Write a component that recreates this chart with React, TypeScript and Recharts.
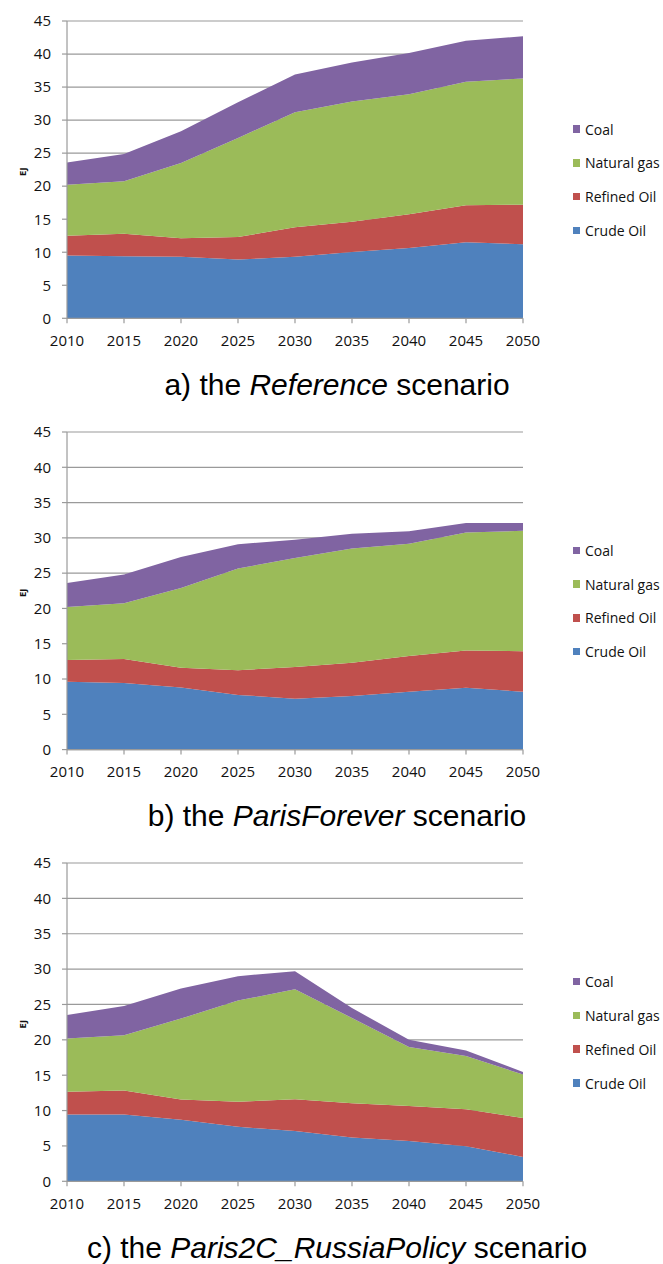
import { Area, AreaChart, CartesianGrid, Label, Legend, XAxis, YAxis } from "recharts";

// years on the category axis
const YEARS = [2010, 2015, 2020, 2025, 2030, 2035, 2040, 2045, 2050];
const Y_TICKS = [0, 5, 10, 15, 20, 25, 30, 35, 40, 45];

// a) Reference
const REF_CRUDE = [9.5, 9.4, 9.3, 8.9, 9.3, 10.05, 10.65, 11.5, 11.2];
const REF_REFINED = [3.0, 3.4, 2.8, 3.4, 4.5, 4.55, 5.1, 5.6, 6.0];
const REF_GAS = [7.7, 7.95, 11.4, 15.0, 17.4, 18.2, 18.15, 18.7, 19.1];
const REF_COAL = [3.4, 4.1, 4.8, 5.4, 5.7, 5.9, 6.25, 6.2, 6.4];

// b) ParisForever
const PF_CRUDE = [9.6, 9.45, 8.8, 7.75, 7.2, 7.6, 8.2, 8.75, 8.2];
const PF_REFINED = [3.1, 3.4, 2.8, 3.5, 4.5, 4.7, 5.05, 5.3, 5.75];
const PF_GAS = [7.5, 7.9, 11.3, 14.4, 15.45, 16.2, 15.9, 16.7, 17.05];
const PF_COAL = [3.4, 4.05, 4.4, 3.45, 2.6, 2.1, 1.8, 1.35, 1.1];

// c) Paris2C_RussiaPolicy
const RP_CRUDE = [9.45, 9.45, 8.7, 7.7, 7.1, 6.2, 5.7, 4.95, 3.45];
const RP_REFINED = [3.2, 3.4, 2.85, 3.55, 4.5, 4.85, 4.95, 5.25, 5.5];
const RP_GAS = [7.55, 7.8, 11.45, 14.3, 15.55, 12.05, 8.35, 7.5, 6.15];
const RP_COAL = [3.3, 4.15, 4.25, 3.45, 2.55, 1.4, 1.0, 0.8, 0.35];

const SERIES = [
  { key: "crude", name: "Crude Oil", color: "#4F81BD" },
  { key: "refined", name: "Refined Oil", color: "#C0504D" },
  { key: "gas", name: "Natural gas", color: "#9BBB59" },
  { key: "coal", name: "Coal", color: "#8064A2" },
];

const GRID = "#9a9a9a";
const TICK_FONT = "'Open Sans', 'Noto Sans', sans-serif";
const MARGIN_TOP = 10;
const X_AXIS_H = 45;
const LEGEND_ROW = 33.8;

function rows(crude: number[], refined: number[], gas: number[], coal: number[]) {
  return YEARS.map((year, i) => ({ year, crude: crude[i], refined: refined[i], gas: gas[i], coal: coal[i] }));
}

const PANELS = [
  { id: "a", plotTop: 20.7, plotH: 297.3, data: rows(REF_CRUDE, REF_REFINED, REF_GAS, REF_COAL), italic: "Reference", prefix: "a) the ", titleBase: 395.5 },
  { id: "b", plotTop: 431.7, plotH: 317.6, data: rows(PF_CRUDE, PF_REFINED, PF_GAS, PF_COAL), italic: "ParisForever", prefix: "b) the ", titleBase: 826.7 },
  { id: "c", plotTop: 862.7, plotH: 318.3, data: rows(RP_CRUDE, RP_REFINED, RP_GAS, RP_COAL), italic: "Paris2C_RussiaPolicy", prefix: "c) the ", titleBase: 1258 },
];

function LegendBox() {
  return (
    <div>
      {[...SERIES].reverse().map((s) => (
        <div key={s.key} style={{ height: LEGEND_ROW, display: "flex", alignItems: "center" }}>
          <span style={{ width: 7.5, height: 7.5, background: s.color, marginRight: 5, flex: "none" }} />
          <span style={{ fontFamily: TICK_FONT, fontSize: 14, color: "#111", whiteSpace: "nowrap" }}>{s.name}</span>
        </div>
      ))}
    </div>
  );
}

function Panel({ panel }: { panel: (typeof PANELS)[number] }) {
  const height = MARGIN_TOP + panel.plotH + X_AXIS_H;
  const legendTop = MARGIN_TOP + panel.plotH / 2 + 10.5 - 2 * LEGEND_ROW;
  return (
    <div style={{ position: "absolute", left: 0, top: panel.plotTop - MARGIN_TOP }}>
      <AreaChart width={663} height={height} data={panel.data} margin={{ top: MARGIN_TOP, right: 140, bottom: 0, left: 0 }}>
        <CartesianGrid vertical={false} stroke={GRID} strokeWidth={1.2} />
        <XAxis
          dataKey="year"
          height={X_AXIS_H}
          stroke={GRID}
          strokeWidth={1.2}
          tickSize={5}
          tickMargin={12}
          tick={{ fill: "#111", fontSize: 15, fontFamily: TICK_FONT }}
          interval={0}
        />
        <YAxis
          type="number"
          domain={[0, 45]}
          ticks={Y_TICKS}
          width={67}
          stroke={GRID}
          strokeWidth={1.2}
          tickSize={5}
          tickMargin={11}
          tick={{ fill: "#111", fontSize: 15, fontFamily: TICK_FONT }}
          interval={0}
        >
          <Label
            content={(props: any) => {
              const vb = props.viewBox || {};
              const cy = (vb.y ?? MARGIN_TOP) + (vb.height ?? panel.plotH) / 2 + 2;
              return (
                <text
                  x={22.7}
                  y={cy}
                  transform={`rotate(-90, 22.7, ${cy})`}
                  textAnchor="middle"
                  dominantBaseline="central"
                  fontFamily={TICK_FONT}
                  fontWeight={700}
                  fontSize={9.5}
                  fill="#111"
                >
                  EJ
                </text>
              );
            }}
          />
        </YAxis>
        {SERIES.map((s) => (
          <Area
            key={s.key}
            type="linear"
            dataKey={s.key}
            name={s.name}
            stackId="1"
            stroke="none"
            fill={s.color}
            fillOpacity={1}
            dot={false}
            activeDot={false}
            isAnimationActive={false}
          />
        ))}
        <Legend
          layout="vertical"
          align="center"
          verticalAlign="middle"
          content={() => <LegendBox />}
          wrapperStyle={{ position: "absolute", left: 572.5, top: legendTop, width: 91, margin: 0 }}
        />
      </AreaChart>
    </div>
  );
}

export default function App() {
  return (
    <div style={{ position: "absolute", left: 0, top: 0, width: 663, height: 1264, background: "#fff", overflow: "hidden" }}>
      {PANELS.map((p) => (
        <div key={p.id}>
          <Panel panel={p} />
          <div
            style={{
              position: "absolute",
              left: 0,
              width: 674,
              top: p.titleBase - 25.4,
              textAlign: "center",
              fontFamily: "'Liberation Sans', Arial, sans-serif",
              fontSize: 30,
              lineHeight: "30px",
              color: "#000",
              whiteSpace: "nowrap",
            }}
          >
            {p.prefix}
            <i>{p.italic}</i> scenario
          </div>
        </div>
      ))}
    </div>
  );
}
